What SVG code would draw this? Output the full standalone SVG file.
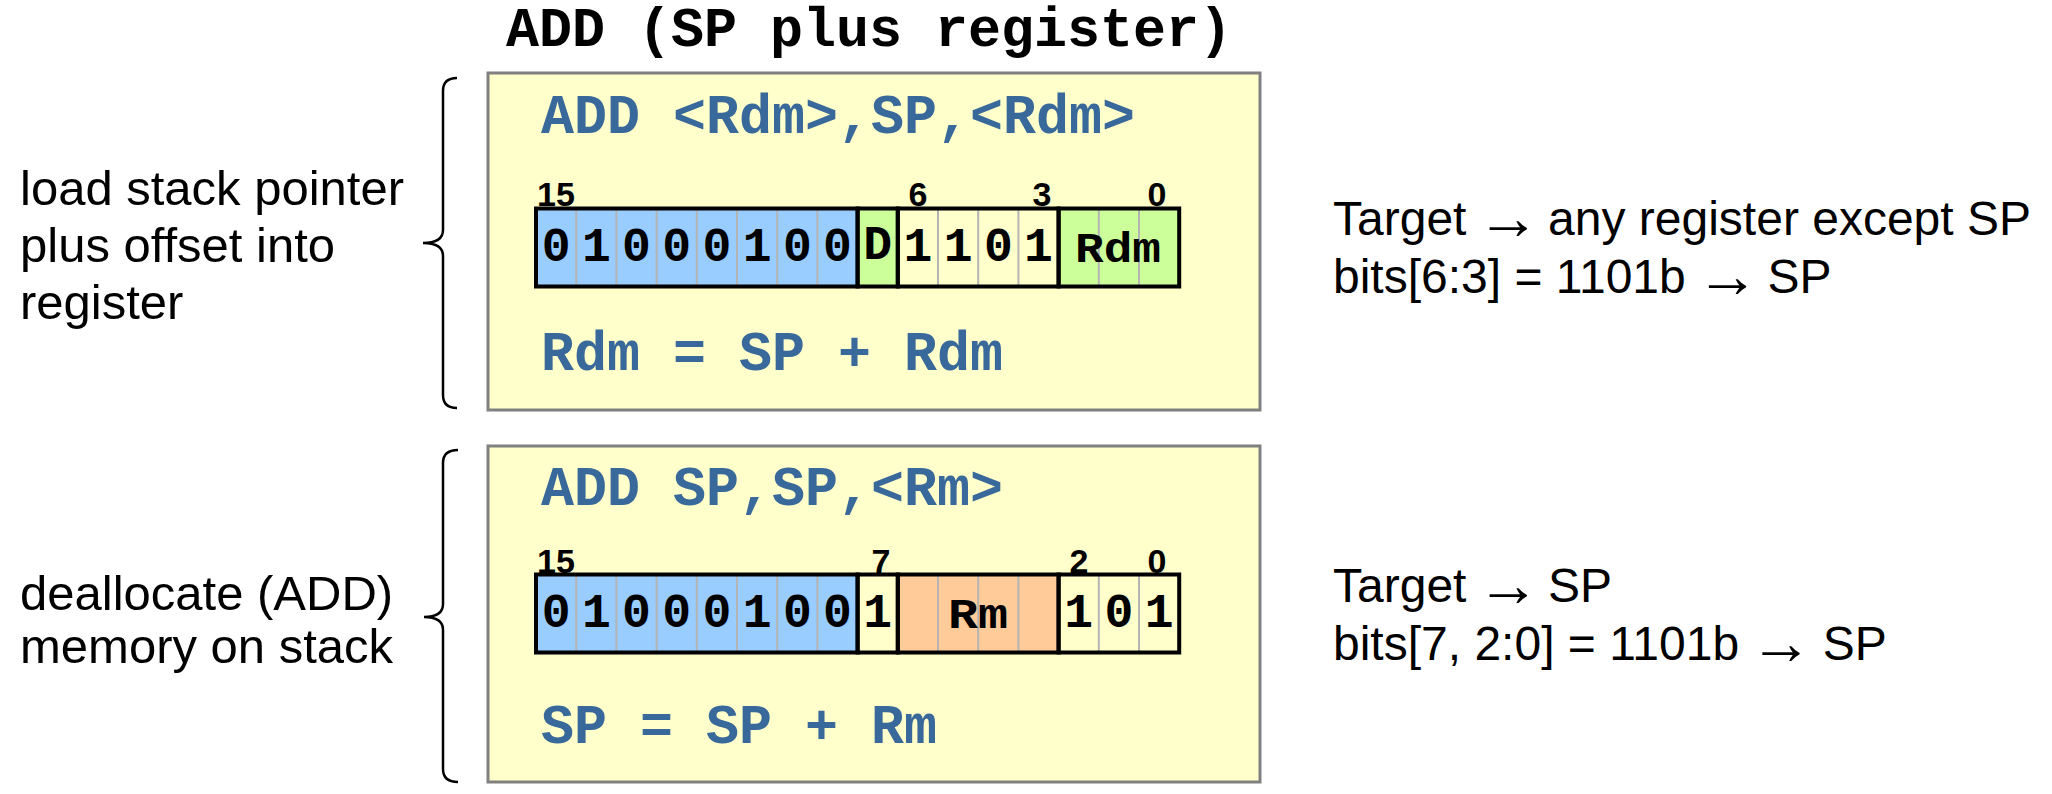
<svg xmlns="http://www.w3.org/2000/svg" width="2052" height="794" viewBox="0 0 2052 794">
<style>
.mono{font-family:"Courier New","Liberation Mono",monospace;font-weight:bold}
.title{font-size:55px;fill:#000}
.code{font-size:55px;fill:#39699A}
.bit{font-size:48px;fill:#000;text-anchor:middle}
.fld{font-size:42px;fill:#000;text-anchor:middle}
.num{font-family:"Liberation Sans",Arial,sans-serif;font-weight:bold;font-size:34px;fill:#000;text-anchor:middle}
.sans{font-family:"Liberation Sans",Arial,sans-serif;font-size:48px;fill:#000}
.left{font-size:49px}
.arr{font-size:63px;font-weight:bold}
.box{fill:#FFFFCC;stroke:#808080;stroke-width:3}
.grp{stroke:#000;stroke-width:4}
.div{stroke:#B4B4B4;stroke-width:2}
.blue{fill:#99CCFF}
.green{fill:#CCFF99}
.cream{fill:#FFFFCC}
.orange{fill:#FFCC99}
.brace{fill:none;stroke:#000;stroke-width:2.5}
</style>
<rect width="2052" height="794" fill="#FFFFFF"/>

<g id="title">
<text class="mono title" x="506" y="46">ADD (SP plus register)</text>
</g>

<g id="label-top">
<text class="sans left" x="20" y="205">load stack pointer</text>
<text class="sans left" x="20" y="262">plus offset into</text>
<text class="sans left" x="20" y="319">register</text>
</g>

<g id="label-bottom">
<text class="sans left" x="20" y="610">deallocate (ADD)</text>
<text class="sans left" x="20" y="663">memory on stack</text>
</g>

<g id="note-top">
<text class="sans" x="1333" y="235">Target <tspan class="arr" dx="-3" dy="4">→</tspan><tspan dy="-4" dx="-5"> any register except SP</tspan></text>
<text class="sans" x="1333" y="293">bits[6:3] = 1101b <tspan class="arr" dx="-3" dy="4">→</tspan><tspan dy="-4" dx="-5"> SP</tspan></text>
</g>

<g id="note-bottom">
<text class="sans" x="1333" y="602">Target <tspan class="arr" dx="-3" dy="4">→</tspan><tspan dy="-4" dx="-5"> SP</tspan></text>
<text class="sans" x="1333" y="660">bits[7, 2:0] = 1101b <tspan class="arr" dx="-3" dy="4">→</tspan><tspan dy="-4" dx="-3"> SP</tspan></text>
</g>

<g id="box-top">
<rect class="box" x="488" y="73" width="772" height="337"/>
<text class="mono code" x="541" y="133">ADD &lt;Rdm&gt;,SP,&lt;Rdm&gt;</text>
<rect class="blue" x="536" y="208.5" width="321.6" height="78"/>
<rect class="green" x="857.6" y="208.5" width="40.2" height="78"/>
<rect class="cream" x="897.8" y="208.5" width="160.8" height="78"/>
<rect class="green" x="1058.6" y="208.5" width="120.6" height="78"/>
<g class="div">
<line x1="576.2" y1="210" x2="576.2" y2="285"/>
<line x1="616.4" y1="210" x2="616.4" y2="285"/>
<line x1="656.6" y1="210" x2="656.6" y2="285"/>
<line x1="696.8" y1="210" x2="696.8" y2="285"/>
<line x1="737" y1="210" x2="737" y2="285"/>
<line x1="777.2" y1="210" x2="777.2" y2="285"/>
<line x1="817.4" y1="210" x2="817.4" y2="285"/>
<line x1="938" y1="210" x2="938" y2="285"/>
<line x1="978.2" y1="210" x2="978.2" y2="285"/>
<line x1="1018.4" y1="210" x2="1018.4" y2="285"/>
<line x1="1098.8" y1="210" x2="1098.8" y2="285"/>
<line x1="1139" y1="210" x2="1139" y2="285"/>
</g>
<g fill="none" class="grp">
<rect x="536" y="208.5" width="321.6" height="78"/>
<rect x="857.6" y="208.5" width="40.2" height="78"/>
<rect x="897.8" y="208.5" width="160.8" height="78"/>
<rect x="1058.6" y="208.5" width="120.6" height="78"/>
</g>
<text class="num" x="556" y="206">15</text>
<text class="num" x="918" y="206">6</text>
<text class="num" x="1042" y="206">3</text>
<text class="num" x="1157" y="206">0</text>
<g class="mono bit">
<text x="556.1" y="261">0</text>
<text x="596.3" y="261">1</text>
<text x="636.5" y="261">0</text>
<text x="676.7" y="261">0</text>
<text x="716.9" y="261">0</text>
<text x="757.1" y="261">1</text>
<text x="797.3" y="261">0</text>
<text x="837.5" y="261">0</text>
<text x="877.7" y="259">D</text>
<text x="917.9" y="261">1</text>
<text x="958.1" y="261">1</text>
<text x="998.3" y="261">0</text>
<text x="1038.5" y="261">1</text>
</g>
<text class="mono fld" x="1118" y="262" textLength="86" lengthAdjust="spacingAndGlyphs">Rdm</text>
<text class="mono code" x="541" y="370">Rdm = SP + Rdm</text>
</g>

<g id="box-bottom">
<rect class="box" x="488" y="446" width="772" height="336"/>
<text class="mono code" x="541" y="505">ADD SP,SP,&lt;Rm&gt;</text>
<rect class="blue" x="536" y="574.5" width="321.6" height="78"/>
<rect class="cream" x="857.6" y="574.5" width="40.2" height="78"/>
<rect class="orange" x="897.8" y="574.5" width="160.8" height="78"/>
<rect class="cream" x="1058.6" y="574.5" width="120.6" height="78"/>
<g class="div">
<line x1="576.2" y1="576" x2="576.2" y2="651"/>
<line x1="616.4" y1="576" x2="616.4" y2="651"/>
<line x1="656.6" y1="576" x2="656.6" y2="651"/>
<line x1="696.8" y1="576" x2="696.8" y2="651"/>
<line x1="737" y1="576" x2="737" y2="651"/>
<line x1="777.2" y1="576" x2="777.2" y2="651"/>
<line x1="817.4" y1="576" x2="817.4" y2="651"/>
<line x1="938" y1="576" x2="938" y2="651"/>
<line x1="978.2" y1="576" x2="978.2" y2="651"/>
<line x1="1018.4" y1="576" x2="1018.4" y2="651"/>
<line x1="1098.8" y1="576" x2="1098.8" y2="651"/>
<line x1="1139" y1="576" x2="1139" y2="651"/>
</g>
<g fill="none" class="grp">
<rect x="536" y="574.5" width="321.6" height="78"/>
<rect x="857.6" y="574.5" width="40.2" height="78"/>
<rect x="897.8" y="574.5" width="160.8" height="78"/>
<rect x="1058.6" y="574.5" width="120.6" height="78"/>
</g>
<text class="num" x="556" y="573">15</text>
<text class="num" x="881" y="573">7</text>
<text class="num" x="1079" y="573">2</text>
<text class="num" x="1157" y="573">0</text>
<g class="mono bit">
<text x="556.1" y="627">0</text>
<text x="596.3" y="627">1</text>
<text x="636.5" y="627">0</text>
<text x="676.7" y="627">0</text>
<text x="716.9" y="627">0</text>
<text x="757.1" y="627">1</text>
<text x="797.3" y="627">0</text>
<text x="837.5" y="627">0</text>
<text x="877.7" y="627">1</text>
<text x="1078.7" y="627">1</text>
<text x="1118.9" y="627">0</text>
<text x="1159.1" y="627">1</text>
</g>
<text class="mono fld" x="978" y="628" textLength="60" lengthAdjust="spacingAndGlyphs">Rm</text>
<text class="mono code" x="541" y="743">SP = SP + Rm</text>
</g>

<g id="connectors">
<path class="brace" d="M457,78 Q443,78 443,91 L443,230 Q443,243 423,243 Q443,243 443,256 L443,395 Q443,408 457,408"/>
<path class="brace" d="M458,450 Q443,450 443,463 L443,604 Q443,617 424,617 Q443,617 443,630 L443,769 Q443,782 458,782"/>
</g>
</svg>
